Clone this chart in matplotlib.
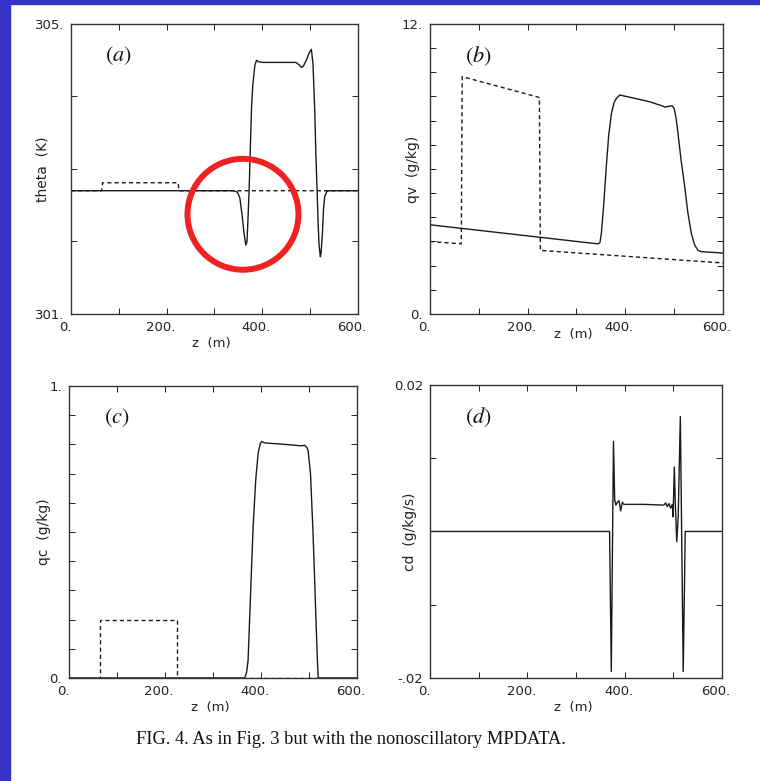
import numpy as np
import matplotlib
matplotlib.use('Agg')
import matplotlib.pyplot as plt
from matplotlib.patches import Ellipse, Rectangle
from matplotlib.transforms import ScaledTranslation

plt.rcParams['font.family'] = ['DejaVu Sans']
plt.rcParams['mathtext.fontset'] = 'stix'

# ---- data ----
# (a) theta (K)
z_th = [0, 340, 348, 353, 358, 362, 365.7, 368, 370, 372.5, 375, 377.5, 380, 384.5,
        388, 392, 400, 470, 478, 482, 486, 492, 498, 502.6, 506, 509.7, 512, 514.5,
        517, 518.7, 521.4, 523, 525.6, 528, 530.5, 535, 541, 600]
th = [302.70, 302.70, 302.68, 302.60, 302.35, 302.10, 301.95, 302.0, 302.3, 302.72,
      303.3, 303.85, 304.15, 304.43, 304.50, 304.48, 304.47, 304.47, 304.43, 304.40,
      304.42, 304.50, 304.60, 304.65, 304.45, 303.8, 303.2, 302.72, 302.2, 301.95,
      301.79, 301.85, 302.1, 302.45, 302.62, 302.69, 302.70, 302.70]
z_th0 = [0, 64, 66, 224, 226, 600]
th0 = [302.70, 302.70, 302.81, 302.81, 302.70, 302.70]

# (b) qv (g/kg)
z_qv = [0, 344, 348, 351, 356, 361, 366, 371.6, 377, 382, 388.6, 420, 450, 477, 481,
        488, 496, 500, 504, 507.8, 514, 521.6, 528, 535, 542, 549, 555, 600]
qv = [3.69, 2.90, 2.95, 3.35, 4.6, 6.1, 7.4, 8.31, 8.75, 8.93, 9.06, 8.92, 8.78, 8.60,
      8.56, 8.59, 8.61, 8.5, 8.1, 7.48, 6.4, 5.28, 4.2, 3.35, 2.85, 2.63, 2.58, 2.52]
z_qv0 = [0, 64, 66, 224, 226, 600]
qv0 = [3.0, 2.90, 9.82, 8.96, 2.63, 2.11]

# (c) qc (g/kg)
z_qc = [0, 366, 370, 373, 378, 383.6, 389, 394, 398, 401, 408, 450, 484, 491, 495,
        498, 503, 508, 512, 515, 517, 519, 600]
qc = [0, 0, 0.02, 0.06, 0.28, 0.52, 0.68, 0.77, 0.80, 0.81, 0.805, 0.80, 0.795,
      0.797, 0.79, 0.78, 0.70, 0.51, 0.32, 0.17, 0.08, 0, 0]
z_qc0 = [0, 65, 65, 225, 225, 600]
qc0 = [0, 0, 0.198, 0.198, 0, 0]

# (d) cd (g/kg/s)
z_cd = [0, 369, 372.5, 377, 379.5, 382, 385, 388.4, 391.8, 395.2, 398.6, 440, 480.8,
        484.2, 487.6, 491, 494.5, 497.9, 499.5, 502, 504, 507, 510, 514.4, 520.3,
        524.5, 600]
cd = [0, 0, -0.0191, 0.0123, 0.0043, 0.0036, 0.0040, 0.0042, 0.0028, 0.0040, 0.0037,
      0.0037, 0.0036, 0.0039, 0.0034, 0.0038, 0.0032, 0.0037, 0.0020, 0.0088, 0.0040,
      -0.0014, 0.0020, 0.0157, -0.0191, 0, 0]

xticks = [0, 100, 200, 300, 400, 500, 600]
xlabels = ['0.', '', '200.', '', '400.', '', '600.']

fig = plt.figure(figsize=(7.6, 7.81), dpi=100)

# blue frame on the left and top
fig.patches.append(Rectangle((0, 0), 10 / 760, 1, transform=fig.transFigure,
                             color='#3434c8', zorder=0))
fig.patches.append(Rectangle((0, 1 - 4 / 781), 1, 4 / 781, transform=fig.transFigure,
                             color='#3434c8', zorder=0))

pos = {'a': [0.0934, 0.598, 0.3776, 0.3713],
       'b': [0.5658, 0.598, 0.3855, 0.3713],
       'c': [0.0908, 0.1319, 0.3790, 0.3739],
       'd': [0.5658, 0.1319, 0.3842, 0.3752]}

lc = '#1a1a1a'
dash = (0, (3.0, 2.2))
lw = 1.0


def style(ax, yticks, ylabels, ylab, letter, ylab_x, xlab_y):
    ax.set_xlim(0, 600)
    ax.set_xticks(xticks)
    ax.set_xticklabels(xlabels)
    ax.set_yticks(yticks)
    ax.set_yticklabels(ylabels)
    ax.set_ylim(yticks[0], yticks[-1])
    ax.tick_params(direction='in', top=True, right=True, length=4, width=0.7,
                   labelsize=9.5, colors='#222222', pad=5)
    for sp in ax.spines.values():
        sp.set_linewidth(1.0)
        sp.set_color('#333333')
    off = ScaledTranslation(-6 / 100, 0, fig.dpi_scale_trans)
    for lab in ax.get_xticklabels():
        lab.set_transform(lab.get_transform() + off)
    ax.set_xlabel('z  (m)', fontsize=9.5, color='#222222')
    ax.xaxis.set_label_coords(0.49, xlab_y)
    ax.set_ylabel(ylab, fontsize=10, color='#222222')
    ax.yaxis.set_label_coords(ylab_x, 0.5)
    ax.text(0.165, 0.89, letter, transform=ax.transAxes, fontsize=16,
            ha='center', va='center', color='#111111')


# (a)
ax = fig.add_axes(pos['a'])
ax.plot(z_th0, th0, color=lc, lw=lw, linestyle=dash)
ax.plot(z_th, th, color=lc, lw=lw)
style(ax, [301, 302, 303, 304, 305], ['301.', '', '', '', '305.'],
      'theta  (K)', r'$(a)$', -0.076, -0.08)
ax.add_patch(Ellipse((359.6, 302.375), 232, 1.53, fill=False,
                     edgecolor='#ee2222', lw=4.3, clip_on=False, zorder=5))

# (b)
ax = fig.add_axes(pos['b'])
ax.plot(z_qv0, qv0, color=lc, lw=lw, linestyle=dash)
ax.plot(z_qv, qv, color=lc, lw=lw)
style(ax, list(range(13)), ['0.'] + [''] * 11 + ['12.'],
      'qv  (g/kg)', r'$(b)$', -0.035, -0.05)

# (c)
ax = fig.add_axes(pos['c'])
ax.plot(z_qc0, qc0, color=lc, lw=lw, linestyle=dash)
ax.plot(z_qc, qc, color=lc, lw=lw)
style(ax, [round(0.1 * i, 1) for i in range(11)], ['0.'] + [''] * 9 + ['1.'],
      'qc  (g/kg)', r'$(c)$', -0.062, -0.08)

# (d)
ax = fig.add_axes(pos['d'])
ax.plot(z_cd, cd, color=lc, lw=lw)
style(ax, [-0.02, -0.01, 0.0, 0.01, 0.02], ['-.02', '', '', '', '0.02'],
      'cd  (g/kg/s)', r'$(d)$', -0.043, -0.08)

fig.text(351 / 760, 1 - 740 / 781,
         'FIG. 4. As in Fig. 3 but with the nonoscillatory MPDATA.',
         family='Liberation Serif', fontsize=13.2, ha='center', va='center',
         color='#111111')

fig.savefig('out.png', dpi=100)
